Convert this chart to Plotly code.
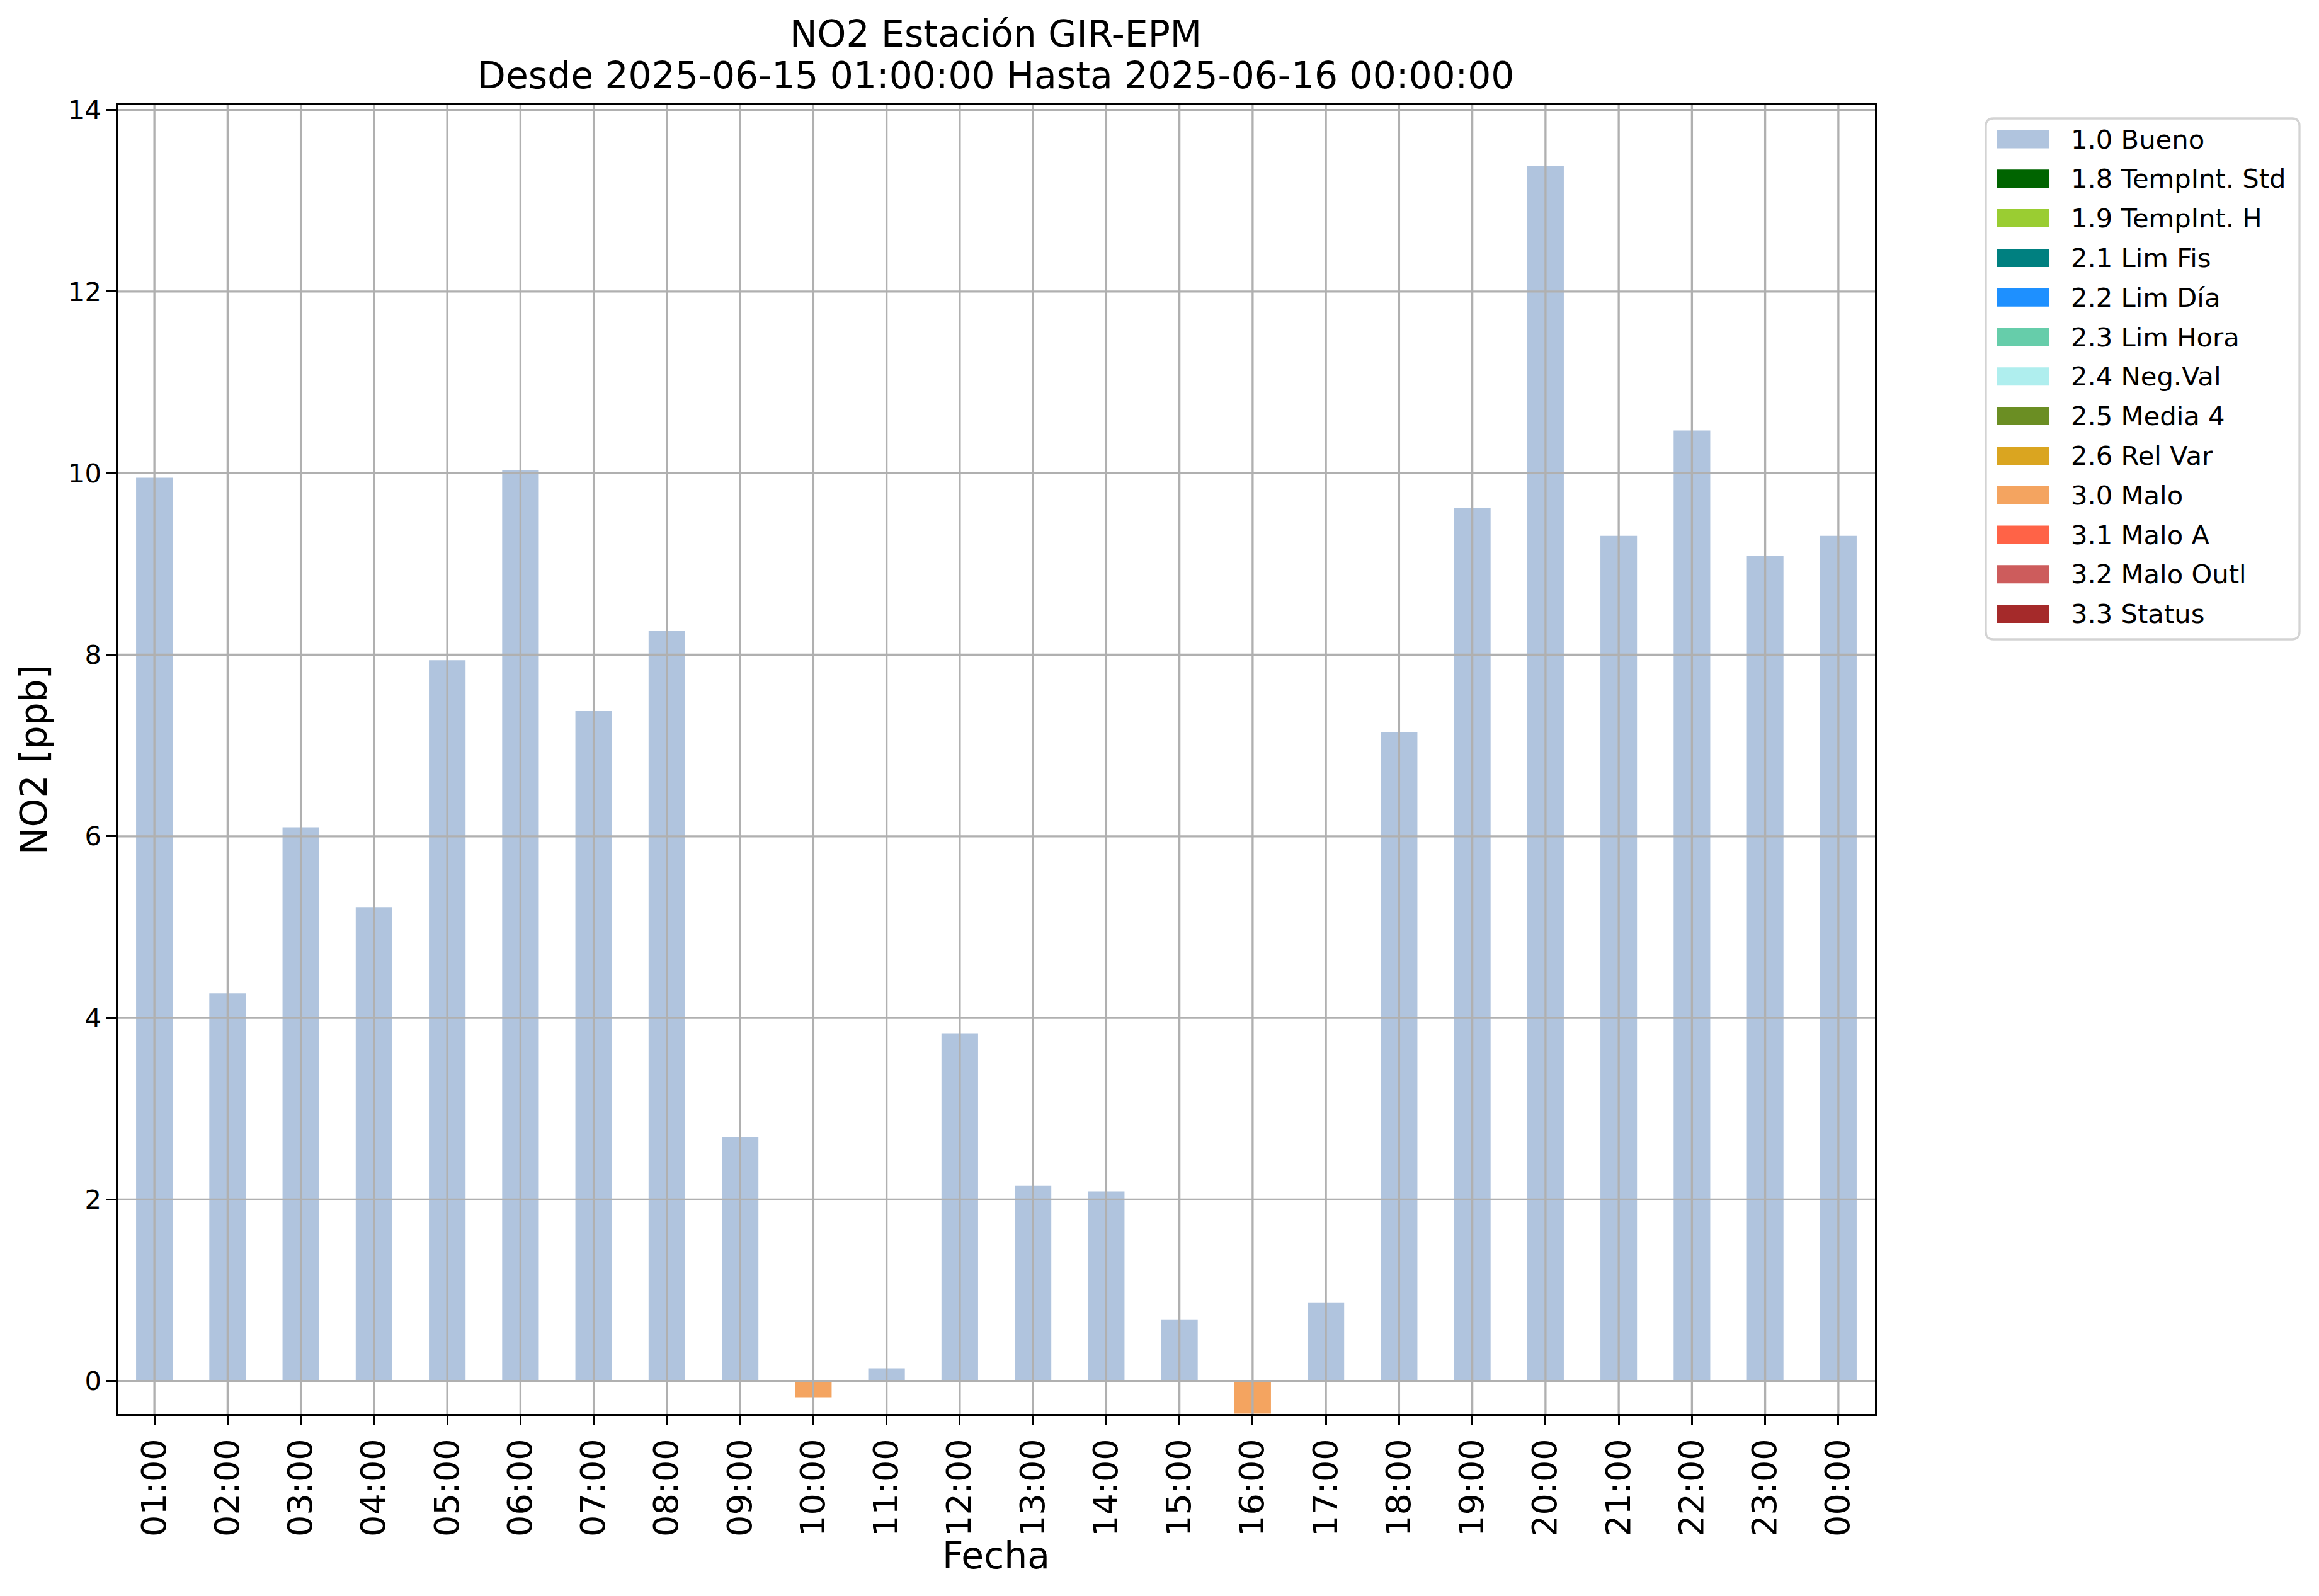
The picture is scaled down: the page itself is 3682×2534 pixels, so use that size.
import plotly.graph_objects as go

# ---------------- data ----------------
hours = ["01:00", "02:00", "03:00", "04:00", "05:00", "06:00", "07:00", "08:00",
         "09:00", "10:00", "11:00", "12:00", "13:00", "14:00", "15:00", "16:00",
         "17:00", "18:00", "19:00", "20:00", "21:00", "22:00", "23:00", "00:00"]
no2_ppb = [9.95, 4.27, 6.10, 5.22, 7.94, 10.03, 7.38, 8.26,
           2.69, -0.18, 0.14, 3.83, 2.15, 2.09, 0.68, -0.36,
           0.86, 7.15, 9.62, 13.38, 9.31, 10.47, 9.09, 9.31]
flags = ["1.0 Bueno"] * 24
flags[9] = "3.0 Malo"
flags[15] = "3.0 Malo"

categories = ["1.0 Bueno", "1.8 TempInt. Std", "1.9 TempInt. H", "2.1 Lim Fis",
              "2.2 Lim Día", "2.3 Lim Hora", "2.4 Neg.Val", "2.5 Media 4",
              "2.6 Rel Var", "3.0 Malo", "3.1 Malo A", "3.2 Malo Outl", "3.3 Status"]
colors = ["#B0C4DE", "#006400", "#9ACD32", "#008080", "#1E90FF", "#66CDAA",
          "#AFEEEE", "#6B8E23", "#DAA520", "#F4A460", "#FF6347", "#CD5C5C", "#A52A2A"]

y_ticks = [0, 2, 4, 6, 8, 10, 12, 14]

title_1 = "NO2 Estación GIR-EPM"
title_2 = "Desde 2025-06-15 01:00:00 Hasta 2025-06-16 00:00:00"
x_title = "Fecha"
y_title = "NO2 [ppb]"

# ---------------- layout geometry (page pixels) ----------------
OFF = 8                      # default body margin of the html page
W, H = 3682 - 2 * OFF, 2534 - 2 * OFF
PX_L, PX_R, PX_T, PX_B = 187, 2977, 166, 2245   # plot area edges on the page
L = PX_L - OFF
T = PX_T - OFF
R = W - (PX_R - OFF)
B = H - (PX_B - OFF)
PW, PH = W - L - R, H - T - B
FONT = "DejaVu Sans"


def px2x(px):
    return (px - OFF - L) / PW


def px2y(py):
    return 1 - (py - OFF - T) / PH


fig = go.Figure()

for cat, col in zip(categories, colors):
    ys = [v if f == cat else None for v, f in zip(no2_ppb, flags)]
    fig.add_trace(go.Bar(x=hours, y=ys, name=cat, width=0.5,
                         marker=dict(color=col, line=dict(width=0)),
                         showlegend=False))

shapes = []
# grid lines drawn above bars (as in the reference)
for i, _ in enumerate(hours):
    shapes.append(dict(type="line", xref="x", yref="paper", x0=i, x1=i, y0=0, y1=1,
                       line=dict(color="#b0b0b0", width=3.3), layer="above"))
for t in y_ticks:
    shapes.append(dict(type="line", xref="paper", yref="y", x0=0, x1=1, y0=t, y1=t,
                       line=dict(color="#b0b0b0", width=3.3), layer="above"))

annotations = []
annotations.append(dict(text=title_1, xref="paper", yref="paper", x=px2x(1581), y=px2y(53.5),
                        xanchor="center", yanchor="middle", showarrow=False,
                        font=dict(family=FONT, size=58.3, color="black")))
annotations.append(dict(text=title_2, xref="paper", yref="paper", x=px2x(1581), y=px2y(119.5),
                        xanchor="center", yanchor="middle", showarrow=False,
                        font=dict(family=FONT, size=58.3, color="black")))
annotations.append(dict(text=x_title, xref="paper", yref="paper", x=px2x(1581), y=px2y(2470),
                        xanchor="center", yanchor="middle", showarrow=False,
                        font=dict(family=FONT, size=58.3, color="black")))
annotations.append(dict(text=y_title, xref="paper", yref="paper", x=px2x(54), y=px2y(1206),
                        xanchor="center", yanchor="middle", showarrow=False, textangle=-90,
                        font=dict(family=FONT, size=58.3, color="black")))

# legend (box, swatches, labels)
bx0, bx1, by0, by1, rad = 3153, 3651, 188, 1015, 12
path = (f"M {bx0 + rad},{by0} L {bx1 - rad},{by0} Q {bx1},{by0} {bx1},{by0 + rad} "
        f"L {bx1},{by1 - rad} Q {bx1},{by1} {bx1 - rad},{by1} "
        f"L {bx0 + rad},{by1} Q {bx0},{by1} {bx0},{by1 - rad} "
        f"L {bx0},{by0 + rad} Q {bx0},{by0} {bx0 + rad},{by0} Z")


def conv_path(p):
    out = []
    for tok in p.split(" "):
        if "," in tok:
            a, b = tok.split(",")
            out.append(f"{px2x(float(a)):.6f},{px2y(float(b)):.6f}")
        else:
            out.append(tok)
    return " ".join(out)


shapes.append(dict(type="path", xref="paper", yref="paper", path=conv_path(path),
                   line=dict(color="#d3d3d3", width=3.3), fillcolor="white", layer="above"))
row0, dy = 221, 62.8
for i, (cat, col) in enumerate(zip(categories, colors)):
    cy = row0 + dy * i
    shapes.append(dict(type="rect", xref="paper", yref="paper",
                       x0=px2x(3171), x1=px2x(3254), y0=px2y(cy - 14.5), y1=px2y(cy + 14.5),
                       fillcolor=col, line=dict(width=0), layer="above"))
    annotations.append(dict(text=cat, xref="paper", yref="paper", x=px2x(3286), y=px2y(cy),
                            xanchor="left", yanchor="middle", showarrow=False,
                            font=dict(family=FONT, size=41.7, color="black")))

fig.update_layout(
    width=W, height=H,
    margin=dict(l=L, r=R, t=T, b=B, autoexpand=False),
    plot_bgcolor="white", paper_bgcolor="white",
    barmode="overlay", showlegend=False,
    font=dict(family=FONT, color="black"),
    shapes=shapes, annotations=annotations,
    xaxis=dict(type="category", categoryorder="array", categoryarray=hours,
               range=[-0.5, 23.5], showgrid=False, zeroline=False,
               showline=True, mirror=True, linecolor="black", linewidth=3.3,
               ticks="outside", ticklen=14.6, tickwidth=3.3, tickcolor="black",
               tickangle=-90, tickfont=dict(family=FONT, size=54, color="black")),
    yaxis=dict(range=[-0.363, 14.06], tickvals=y_ticks, showgrid=False, zeroline=False,
               showline=True, mirror=True, linecolor="black", linewidth=3.3,
               ticks="outside", ticklen=14.6, tickwidth=3.3, tickcolor="black",
               tickfont=dict(family=FONT, size=41.7, color="black")),
)

fig.write_html("out.html")
